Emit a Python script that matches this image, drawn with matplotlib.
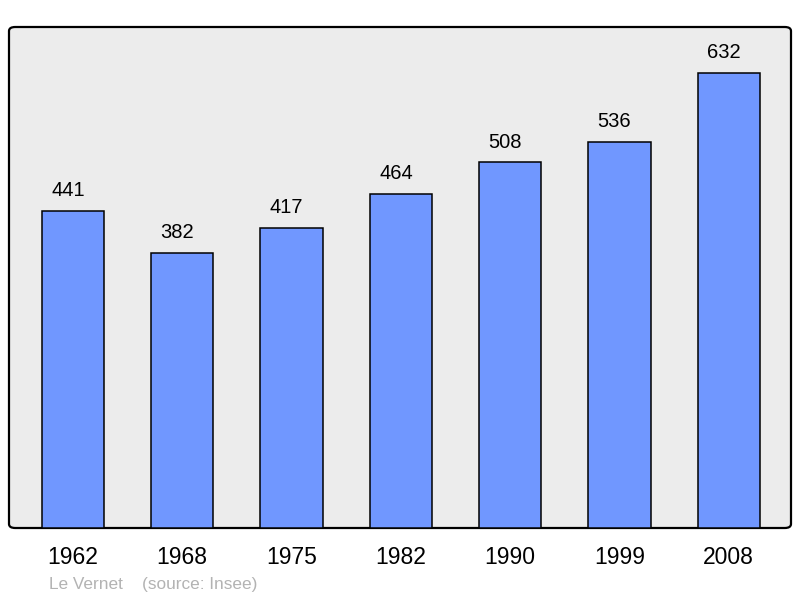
import matplotlib.pyplot as plt
from matplotlib.patches import FancyBboxPatch

plt.rcParams['font.family'] = ['Liberation Sans', 'DejaVu Sans']

years = ['1962', '1968', '1975', '1982', '1990', '1999', '2008']
population = [441, 382, 417, 464, 508, 536, 632]

bar_color = '#7097ff'
bg_color = '#ececec'

fig = plt.figure(figsize=(8, 5.98), dpi=100)
ax = fig.add_axes([9 / 800, 70 / 598, 782 / 800, 501 / 598])
ax.set_facecolor('none')

# rounded frame behind the bars
frame = FancyBboxPatch((0, 0), 1, 1, boxstyle='round,pad=0,rounding_size=0.008',
                       transform=ax.transAxes, facecolor=bg_color,
                       edgecolor='black', linewidth=1.6, zorder=0, clip_on=False)
ax.add_patch(frame)

x = range(len(years))
ax.bar(x, population, width=0.57, color=bar_color, edgecolor='black',
       linewidth=1.1, zorder=2)

for i, v in enumerate(population):
    ax.text(i - 0.045, v + 15, str(v), ha='center', va='bottom', fontsize=14.5,
            color='black')

ax.set_xlim(-0.585, 6.57)
ax.set_ylim(0, 696)
for s in ax.spines.values():
    s.set_visible(False)
ax.set_yticks([])
ax.set_xticks(list(x))
ax.set_xticklabels(years, fontsize=16.5)
ax.tick_params(axis='x', length=0, pad=13)

fig.text(49 / 800, 1 - 589 / 598, 'Le Vernet', fontsize=12.4,
         color='#b3b3b3', ha='left', va='baseline')
fig.text(142 / 800, 1 - 589 / 598, '(source: Insee)', fontsize=12.4,
         color='#b3b3b3', ha='left', va='baseline')

fig.savefig('out.png', dpi=100)
